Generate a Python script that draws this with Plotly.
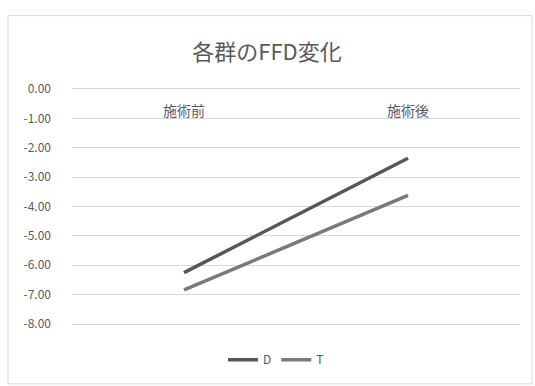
import plotly.graph_objects as go

categories = ["施術前", "施術後"]
series_names = ["D", "T"]
d_values = [-6.25, -2.36]
t_values = [-6.84, -3.62]
y_ticks = [0, -1, -2, -3, -4, -5, -6, -7, -8]
y_tick_labels = ["0.00", "-1.00", "-2.00", "-3.00", "-4.00", "-5.00", "-6.00", "-7.00", "-8.00"]

FONT = "Noto Sans CJK JP, Open Sans, sans-serif"
fig = go.Figure()
fig.add_trace(go.Scatter(x=categories, y=d_values, mode="lines", name=series_names[0],
                         line=dict(color="#575757", width=3.5)))
fig.add_trace(go.Scatter(x=categories, y=t_values, mode="lines", name=series_names[1],
                         line=dict(color="#7a7a7a", width=3.5)))

for c in categories:
    fig.add_annotation(x=c, y=-0.72, xref="x", yref="y", text=c, showarrow=False,
                       font=dict(family=FONT, size=14, color="#595959"))

W, H = 535, 386
l, r, t, b = 72, 15, 86, 50
pw, ph = W - l - r, H - t - b
def px(x): return (x - l) / pw
def py(y): return (H - b - y) / ph

fig.add_shape(type="rect", xref="paper", yref="paper",
              x0=px(8), x1=px(532), y0=py(395), y1=py(13),
              line=dict(color="#d9d9d9", width=1), fillcolor="rgba(0,0,0,0)", layer="below")

fig.update_layout(
    width=W, height=H,
    margin=dict(l=l, r=r, t=t, b=b),
    paper_bgcolor="white", plot_bgcolor="white",
    title=dict(text="各群のFFD変化", x=px(267), xref="paper", xanchor="center",
               y=1 - 52 / H, yanchor="middle",
               font=dict(family=FONT, size=22, color="#595959")),
    xaxis=dict(type="category", range=[-0.5, 1.5], showticklabels=False,
               showgrid=False, zeroline=False, showline=False, fixedrange=True),
    yaxis=dict(range=[-8.1, 0.1], tickvals=y_ticks, ticktext=y_tick_labels,
               showgrid=True, gridcolor="#d9d9d9", gridwidth=1, zeroline=False,
               showline=False, ticks="", ticklabelstandoff=20,
               tickfont=dict(family=FONT, size=12, color="#595959")),
    legend=dict(orientation="h", x=px(276), xanchor="center", y=py(370), yanchor="middle",
                font=dict(family=FONT, size=12, color="#595959"),
                itemwidth=30, tracegroupgap=0),
    showlegend=True,
)

fig.write_html("out.html")
